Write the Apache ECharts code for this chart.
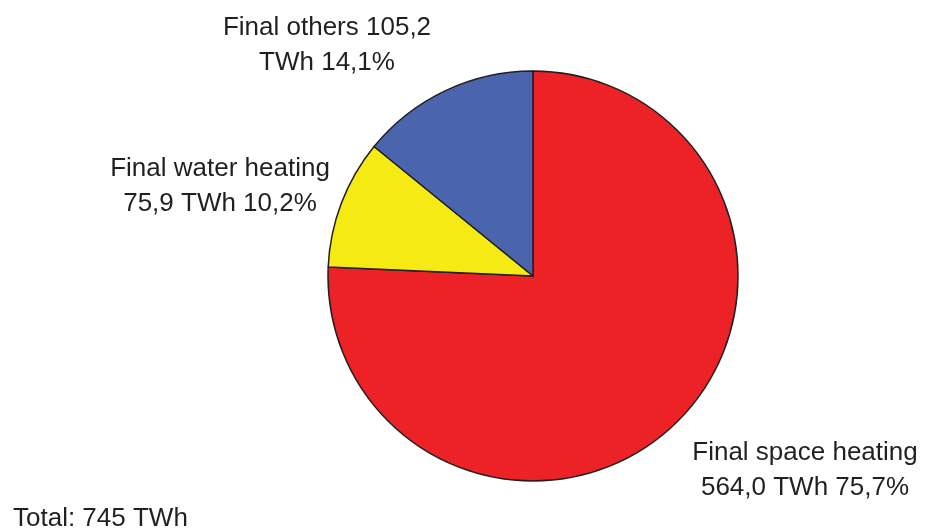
<!DOCTYPE html>
<html>
<head>
<meta charset="utf-8">
<script src="https://cdn.jsdelivr.net/npm/echarts@6/dist/echarts.min.js"></script>
<style>
  html, body { margin: 0; padding: 0; background: #fff; }
  #chart { width: 928px; height: 531px; }
</style>
</head>
<body>
<div id="chart"></div>
<script>
// data
var names = ["Final space heating", "Final water heating", "Final others"];
var values = [564.0, 75.9, 105.2];
var percents = ["75,7%", "10,2%", "14,1%"];
var labelTexts = [
  "Final space heating\n564,0 TWh 75,7%",
  "Final water heating\n75,9 TWh 10,2%",
  "Final others 105,2\nTWh 14,1%"
];
var colors = ["#EC2227", "#F5EA14", "#4A64AE"];
var totalText = "Total: 745 TWh";

// where each label sits (center of the text block)
var labelPos = [[805, 470], [220, 186], [327, 45]];

var chart = echarts.init(document.getElementById("chart"));

var option = {
  backgroundColor: "#ffffff",
  animation: false,
  textStyle: { fontFamily: "Liberation Sans, Arial, sans-serif" },
  graphic: [
    {
      type: "text",
      left: 13,
      top: 506,
      style: {
        text: totalText,
        fontSize: 26,
        fontFamily: "Liberation Sans, Arial, sans-serif",
        fill: "#231f20"
      }
    }
  ],
  series: [
    {
      type: "pie",
      center: [533, 276],
      radius: 205,
      startAngle: 90,
      clockwise: true,
      itemStyle: {
        borderColor: "#231f20",
        borderWidth: 1.5
      },
      label: {
        show: true,
        position: "outside",
        fontSize: 26,
        lineHeight: 35,
        color: "#231f20",
        align: "center",
        overflow: "none",
        fontFamily: "Liberation Sans, Arial, sans-serif",
        formatter: function (p) {
          return labelTexts[p.dataIndex];
        }
      },
      labelLine: { show: false },
      labelLayout: function (p) {
        return {
          x: labelPos[p.dataIndex][0],
          y: labelPos[p.dataIndex][1],
          align: "center",
          verticalAlign: "middle"
        };
      },
      emphasis: { disabled: true },
      data: names.map(function (n, i) {
        return { name: n, value: values[i], itemStyle: { color: colors[i] } };
      })
    }
  ]
};

chart.setOption(option);
</script>
</body>
</html>
